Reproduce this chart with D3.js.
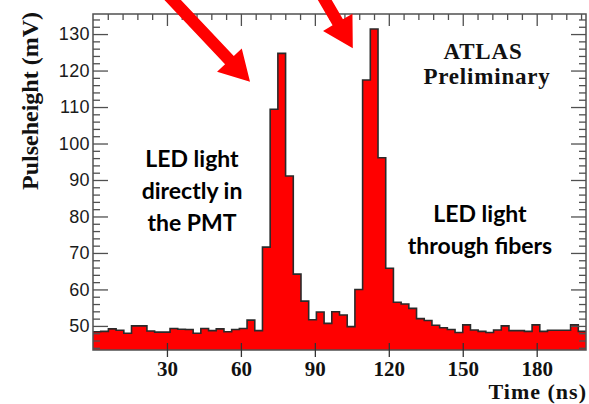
<!DOCTYPE html>
<html>
<head>
<meta charset="utf-8">
<script src="https://cdn.jsdelivr.net/npm/d3@7"></script>
<style>
  html, body { margin: 0; padding: 0; background: #fff; }
  svg { display: block; }
</style>
</head>
<body>
<svg id="chart" width="589" height="404"></svg>
<script>
// Pulse height per 3.125 ns time bin, 0-200 ns (64 bins)
const binWidth = 3.125;
const pulseheight = [
  48.4, 48.5, 49.2, 48.8, 48.0, 50.0, 50.0, 48.6,
  48.3, 48.3, 49.3, 49.1, 49.0, 48.0, 49.3, 48.7,
  49.2, 48.4, 49.0, 49.3, 51.6, 48.7, 71.6, 109.4,
  124.7, 91.1, 64.2, 56.8, 51.7, 53.8, 50.7, 53.9,
  53.0, 49.8, 60.0, 117.4, 131.4, 96.1, 65.8, 56.5,
  56.0, 54.8, 52.0, 51.5, 50.2, 49.5, 49.0, 48.2,
  50.3, 48.9, 48.5, 48.2, 48.9, 50.0, 48.7, 48.7,
  48.5, 50.3, 48.5, 48.8, 48.8, 48.8, 50.3, 48.5
];
const timeTicks = [30, 60, 90, 120, 150, 180];
const voltTicks = [50, 60, 70, 80, 90, 100, 110, 120, 130];
const noteDirect = ["LED light", "directly in", "the PMT"];
const noteFibers = ["LED light", "through fibers"];
// arrow tails (off the top) and tips, in [time ns, pulseheight mV]
const arrows = [
  { from: [30.0, 141], to: [63.7, 116.9] },
  { from: [92.6, 141], to: [105.4, 126.1] }
];

const svg = d3.select("#chart");
const frame = { left: 93, right: 586, top: 14, bottom: 350 };

const x = d3.scaleLinear().domain([0, 200]).range([frame.left, frame.right]);
const y = d3.scaleLinear().domain([43.4, 135.5]).range([frame.bottom, frame.top]);

// histogram as step curve
const steps = pulseheight.map((v, i) => ({ t: i * binWidth, v }));
steps.push({ t: pulseheight.length * binWidth, v: pulseheight[pulseheight.length - 1] });

const area = d3.area()
  .x(d => x(d.t))
  .y0(frame.bottom)
  .y1(d => y(d.v))
  .curve(d3.curveStepAfter);
const line = d3.line()
  .x(d => x(d.t))
  .y(d => y(d.v))
  .curve(d3.curveStepAfter);

svg.append("path")
  .attr("d", area(steps))
  .attr("fill", "#ff0000");
svg.append("path")
  .attr("d", line(steps))
  .attr("fill", "none")
  .attr("stroke", "#2a2a2a")
  .attr("stroke-width", 1.6);

// frame
const axisColor = "#505050";
svg.append("rect")
  .attr("x", frame.left).attr("y", frame.top)
  .attr("width", frame.right - frame.left).attr("height", frame.bottom - frame.top)
  .attr("fill", "none")
  .attr("stroke", axisColor)
  .attr("stroke-width", 1.5);

function styleAxis(g) {
  g.select(".domain").remove();
  g.selectAll(".tick line").attr("stroke", axisColor).attr("stroke-width", 1.3);
}

const voltMinor = d3.range(44, 136, 2).filter(v => v % 10 !== 0);
const timeMinor = d3.range(6, 200, 6).filter(v => v % 30 !== 0);

// left axis
svg.append("g")
  .attr("transform", `translate(${frame.left},0)`)
  .call(d3.axisLeft(y).tickValues(voltMinor).tickSize(-7).tickFormat(""))
  .call(styleAxis);
svg.append("g")
  .attr("transform", `translate(${frame.left},0)`)
  .call(d3.axisLeft(y).tickValues(voltTicks).tickSize(-15).tickPadding(3))
  .call(styleAxis)
  .call(g => g.selectAll("text")
    .attr("font-family", "'Liberation Sans', Arial, sans-serif")
    .attr("font-size", 18)
    .attr("letter-spacing", 0.4)
    .attr("fill", "#1a1a1a"));

// right axis
svg.append("g")
  .attr("transform", `translate(${frame.right},0)`)
  .call(d3.axisRight(y).tickValues(voltMinor).tickSize(-7).tickFormat(""))
  .call(styleAxis);
svg.append("g")
  .attr("transform", `translate(${frame.right},0)`)
  .call(d3.axisRight(y).tickValues(voltTicks).tickSize(-15).tickFormat(""))
  .call(styleAxis);

// top axis
svg.append("g")
  .attr("transform", `translate(0,${frame.top})`)
  .call(d3.axisTop(x).tickValues(timeMinor).tickSize(-6).tickFormat(""))
  .call(styleAxis);
svg.append("g")
  .attr("transform", `translate(0,${frame.top})`)
  .call(d3.axisTop(x).tickValues(timeTicks).tickSize(-12).tickFormat(""))
  .call(styleAxis);

// bottom axis
svg.append("g")
  .attr("transform", `translate(0,${frame.bottom})`)
  .call(d3.axisBottom(x).tickValues(timeTicks).tickSize(7).tickPadding(4))
  .call(styleAxis)
  .call(g => g.selectAll(".tick line").attr("y1", -7).attr("stroke", "#333"))
  .call(g => g.selectAll("text")
    .attr("font-family", "'Liberation Serif', 'Times New Roman', serif")
    .attr("font-weight", "bold")
    .attr("font-size", 21)
    .attr("fill", "#111"));

// axis titles
svg.append("text")
  .attr("transform", `translate(38,101) rotate(-90)`)
  .attr("text-anchor", "middle")
  .attr("font-family", "'Liberation Serif', 'Times New Roman', serif")
  .attr("font-weight", "bold")
  .attr("font-size", 24)
  .attr("fill", "#111")
  .text("Pulseheight (mV)");
svg.append("text")
  .attr("x", 587).attr("y", 399)
  .attr("text-anchor", "end")
  .attr("font-family", "'Liberation Serif', 'Times New Roman', serif")
  .attr("font-weight", "bold")
  .attr("font-size", 22)
  .attr("letter-spacing", 1)
  .attr("fill", "#111")
  .text("Time (ns)");

// experiment label
const labelFont = {
  "text-anchor": "middle",
  "font-family": "'Liberation Serif', 'Times New Roman', serif",
  "font-weight": "bold",
  "font-size": 23,
  "letter-spacing": 0.8,
  "fill": "#111"
};
[["ATLAS", 483, 58.5], ["Preliminary", 487, 84]].forEach(([s, cx, by]) => {
  const t = svg.append("text").attr("x", cx).attr("y", by).text(s);
  Object.entries(labelFont).forEach(([k, v]) => t.attr(k, v));
});

// notes
function note(lines, cx, y0, dy) {
  const t = svg.append("text")
    .attr("text-anchor", "middle")
    .attr("font-family", "Lato, 'Open Sans', sans-serif")
    .attr("font-weight", "bold")
    .attr("font-size", 23)
    .attr("fill", "#000");
  lines.forEach((s, i) => t.append("tspan").attr("x", cx).attr("y", y0 + i * dy).text(s));
}
note(noteDirect, 192, 167, 32);
note(noteFibers, 480, 222, 31.5);

// arrows
const shaft = 12, headLen = 30, headHalf = 17;
arrows.forEach(a => {
  const sx = x(a.from[0]), sy = y(a.from[1]);
  const tx = x(a.to[0]), ty = y(a.to[1]);
  const len = Math.hypot(tx - sx, ty - sy);
  const ux = (tx - sx) / len, uy = (ty - sy) / len;
  const nx = -uy, ny = ux;
  const bx = tx - ux * headLen, by = ty - uy * headLen;
  const pts = [
    [sx + nx * shaft / 2, sy + ny * shaft / 2],
    [bx + nx * shaft / 2, by + ny * shaft / 2],
    [bx + nx * headHalf, by + ny * headHalf],
    [tx, ty],
    [bx - nx * headHalf, by - ny * headHalf],
    [bx - nx * shaft / 2, by - ny * shaft / 2],
    [sx - nx * shaft / 2, sy - ny * shaft / 2]
  ];
  svg.append("polygon")
    .attr("points", pts.map(p => p.join(",")).join(" "))
    .attr("fill", "#ff0000");
});
</script>
</body>
</html>
